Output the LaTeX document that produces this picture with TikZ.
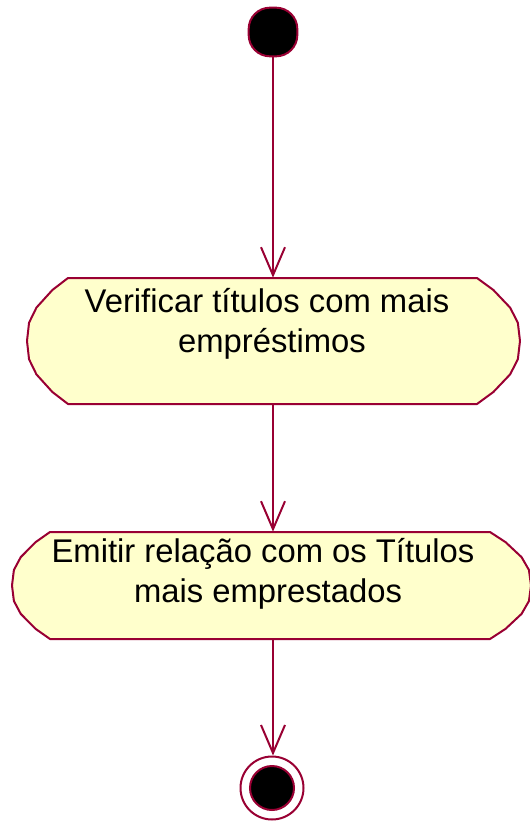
\documentclass[tikz,border=0pt]{standalone}
\usepackage{fontspec}
\setmainfont{Liberation Sans}
\usetikzlibrary{arrows.meta}
\definecolor{umlline}{RGB}{153,0,51}
\definecolor{umlfill}{RGB}{255,255,204}
% #1 xL, #2 xR, #3 yTop, #4 yBottom, #5 rxL, #6 rxR
\newcommand\actoutline[6]{%
  \draw[actshape] (#1,#3) -- (#2,#3)
    -- ({#2+.38*#6},{(#3+#4)/2-.81*(#4-#3)/2})
    -- ({#2+.77*#6},{(#3+#4)/2-.53*(#4-#3)/2})
    -- ({#2+.95*#6},{(#3+#4)/2-.29*(#4-#3)/2})
    -- ({#2+#6},{(#3+#4)/2})
    -- ({#2+.95*#6},{(#3+#4)/2+.29*(#4-#3)/2})
    -- ({#2+.77*#6},{(#3+#4)/2+.53*(#4-#3)/2})
    -- ({#2+.38*#6},{(#3+#4)/2+.81*(#4-#3)/2})
    -- (#2,#4) -- (#1,#4)
    -- ({#1-.38*#5},{(#3+#4)/2+.81*(#4-#3)/2})
    -- ({#1-.77*#5},{(#3+#4)/2+.53*(#4-#3)/2})
    -- ({#1-.95*#5},{(#3+#4)/2+.29*(#4-#3)/2})
    -- ({#1-#5},{(#3+#4)/2})
    -- ({#1-.95*#5},{(#3+#4)/2-.29*(#4-#3)/2})
    -- ({#1-.77*#5},{(#3+#4)/2-.53*(#4-#3)/2})
    -- ({#1-.38*#5},{(#3+#4)/2-.81*(#4-#3)/2})
    -- cycle;}
\begin{document}
\begin{tikzpicture}[x=0.75pt,y=-0.75pt,
  flow/.style={draw=umlline,line width=1.5pt,-{Straight Barb[length=21pt,width=18pt]}},
  startnode/.style={rectangle,rounded corners=16pt,minimum size=36.5pt,inner sep=0pt,fill=black,draw=umlline,line width=1.5pt},
  endouter/.style={circle,minimum size=47.25pt,inner sep=0pt,draw=umlline,line width=1.5pt,fill=white},
  endinner/.style={circle,minimum size=33pt,inner sep=0pt,fill=black,draw=umlline,line width=1.5pt},
  actbox/.style={rectangle,inner sep=0pt,draw=none},
  actshape/.style={draw=umlline,fill=umlfill,line width=1.5pt,line join=round},
  acttext/.style={inner sep=0pt,anchor=base,font=\fontsize{24.6}{30}\selectfont}
]
\useasboundingbox (0,0) rectangle (530,821);
\clip (0,0) rectangle (530,821);

% start
\node[startnode] (start) at (273,32) {};

% activity 1
\node[actbox,minimum width=369.75pt,minimum height=94.5pt] (act1) at (273.5,341) {};
\actoutline{68}{477}{278}{404}{41}{43}
\node[acttext] (t1a) at (267,312) {Verificar títulos com mais};
\node[acttext] (t1b) at (272,352) {empréstimos};

% activity 2
\node[actbox,minimum width=389.25pt,minimum height=80.25pt] (act2) at (271.5,585.5) {};
\actoutline{50}{490}{532}{639}{38}{41}
\node[acttext] (t2a) at (263,562) {Emitir relação com os Títulos};
\node[acttext] (t2b) at (268,602) {mais emprestados};

% end
\node[endouter] (end) at (272,788) {};
\node[endinner] (endin) at (end.center) {};

% connectors
\draw[flow] (start.south) -- (start.south |- act1.north);
\draw[flow] (start.south |- act1.south) -- (start.south |- act2.north);
\draw[flow] (start.south |- act2.south) -- (start.south |- end.north);
\end{tikzpicture}
\end{document}
